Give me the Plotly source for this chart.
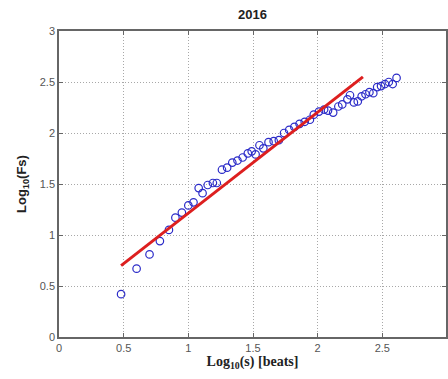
import plotly.graph_objects as go

# Data (DFA: log10 of scale vs log10 of fluctuation)
log_s = [0.48, 0.60, 0.70, 0.78, 0.85, 0.90, 0.95, 1.00, 1.04, 1.08, 1.11, 1.15,
         1.19, 1.22, 1.26, 1.30, 1.34, 1.38, 1.42, 1.46, 1.49, 1.52, 1.55, 1.58,
         1.62, 1.66, 1.70, 1.74, 1.78, 1.82, 1.86, 1.90, 1.94, 1.97, 2.01, 2.05,
         2.08, 2.12, 2.16, 2.19, 2.23, 2.25, 2.28, 2.31, 2.34, 2.37, 2.40, 2.43,
         2.46, 2.49, 2.52, 2.55, 2.58, 2.61]
log_fs = [0.42, 0.67, 0.81, 0.94, 1.05, 1.17, 1.22, 1.29, 1.32, 1.46, 1.41, 1.49,
          1.51, 1.51, 1.64, 1.66, 1.71, 1.73, 1.76, 1.80, 1.82, 1.79, 1.88, 1.85,
          1.91, 1.92, 1.93, 2.00, 2.03, 2.06, 2.09, 2.11, 2.13, 2.18, 2.21, 2.23,
          2.22, 2.20, 2.26, 2.28, 2.33, 2.37, 2.30, 2.31, 2.36, 2.38, 2.40, 2.39,
          2.45, 2.46, 2.48, 2.50, 2.48, 2.54]
fit_x = [0.48, 2.35]
fit_y = [0.70, 2.55]

x_ticks = [0, 0.5, 1, 1.5, 2, 2.5]
y_ticks = [0, 0.5, 1, 1.5, 2, 2.5, 3]

fig = go.Figure()
fig.add_trace(go.Scatter(
    x=log_s, y=log_fs, mode="markers",
    marker=dict(symbol="circle-open", size=7.5, color="#2b2bc8", line=dict(width=1.2)),
    showlegend=False))
fig.add_trace(go.Scatter(
    x=fit_x, y=fit_y, mode="lines",
    line=dict(color="#dd1f1f", width=3), showlegend=False))

axis_common = dict(
    showgrid=True, gridcolor="#a8a8a8", griddash="1px,2px", gridwidth=1,
    zeroline=False, showline=True, linecolor="#666666", linewidth=1.5,
    mirror="ticks", ticks="inside", ticklen=4, tickcolor="#666666",
    tickfont=dict(family="Liberation Sans, Arial", size=11, color="#555555"),
)

fig.update_layout(
    width=448, height=379,
    margin=dict(l=59, r=0, t=31, b=42),
    paper_bgcolor="white", plot_bgcolor="white",
    title=dict(text="<b>2016</b>", x=0.5, xref="paper", y=1 - 14 / 379, yanchor="middle",
               font=dict(family="Liberation Sans, Arial", size=13, color="#222222")),
    xaxis=dict(range=[0, 389 / 130], tickvals=x_ticks, ticktext=[str(v) for v in x_ticks],
               title=dict(text="<b>Log<sub>10</sub>(s) [beats]</b>", standoff=3,
                          font=dict(family="Liberation Serif, Times New Roman", size=14, color="#222222")),
               **axis_common),
    yaxis=dict(range=[0, 3], tickvals=y_ticks, ticktext=[str(v) for v in y_ticks],
               title=dict(text="<b>Log<sub>10</sub>(Fs)</b>", standoff=10,
                          font=dict(family="Liberation Sans, Arial", size=13, color="#222222")),
               **axis_common),
)

fig.write_html("out.html", config={"displayModeBar": False},
               post_script="document.body.style.margin='0';document.body.style.overflow='hidden';")
